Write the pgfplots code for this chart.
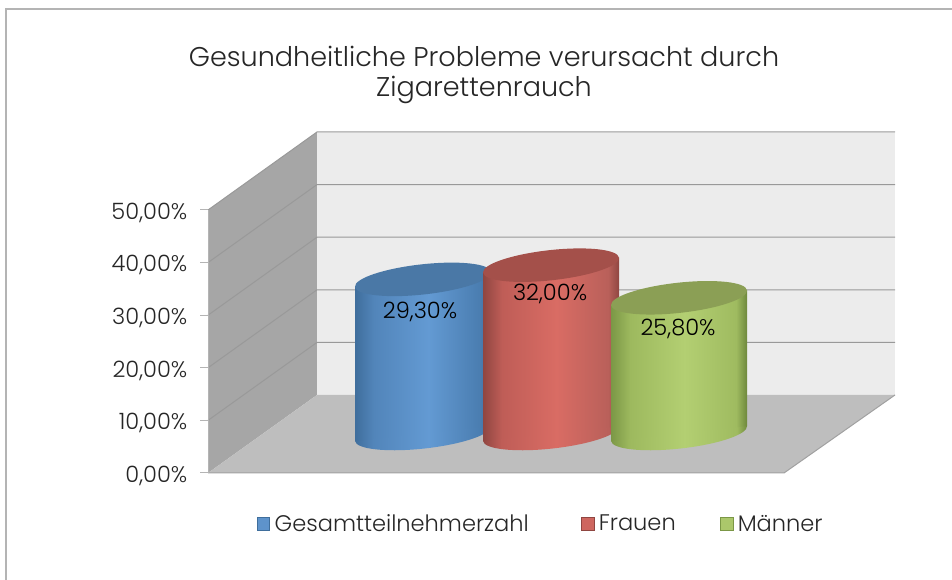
\documentclass[border=0pt]{standalone}
\usepackage{pgfplots}
\pgfplotsset{compat=1.18}
\usepackage{fontspec}
\setmainfont{Poppins}[UprightFont=* Light]
\definecolor{sidewall}{HTML}{A6A6A6}
\definecolor{floorc}{HTML}{BEBEBE}
\definecolor{backw}{HTML}{ECECEC}
\definecolor{gridc}{HTML}{999999}
\definecolor{bordc}{HTML}{B4B4B4}
\definecolor{txt}{HTML}{262626}
\definecolor{bA}{HTML}{3F6E9C}\definecolor{bB}{HTML}{5285BA}\definecolor{bC}{HTML}{639AD3}\definecolor{bD}{HTML}{4A7DB0}\definecolor{bT}{HTML}{4A78A6}
\definecolor{rA}{HTML}{8F4641}\definecolor{rB}{HTML}{BF5D57}\definecolor{rC}{HTML}{D96C64}\definecolor{rD}{HTML}{B9605A}\definecolor{rT}{HTML}{A4504A}
\definecolor{gA}{HTML}{7B9746}\definecolor{gB}{HTML}{9DB95E}\definecolor{gC}{HTML}{B3CF72}\definecolor{gD}{HTML}{9FBB60}\definecolor{gT}{HTML}{8B9F55}
\definecolor{gE}{HTML}{6E883C}
\pgfdeclarehorizontalshading{cylb}{100bp}{color(0bp)=(bA); color(25bp)=(bA); color(32bp)=(bB); color(52bp)=(bC); color(71bp)=(bD); color(75bp)=(bA); color(100bp)=(bA)}
\pgfdeclarehorizontalshading{cylr}{100bp}{color(0bp)=(rA); color(25bp)=(rA); color(32bp)=(rB); color(52bp)=(rC); color(71bp)=(rD); color(75bp)=(rA); color(100bp)=(rA)}
\pgfdeclarehorizontalshading{cylg}{100bp}{color(0bp)=(gA); color(25bp)=(gA); color(32bp)=(gB); color(52bp)=(gC); color(71bp)=(gD); color(75bp)=(gE); color(100bp)=(gE)}
% tilted ellipses: half axes 68 px and 15 px
\pgfdeclareplotmark{topb}{\pgfpathellipse{\pgfpointorigin}{\pgfqpoint{51pt}{5.6pt}}{\pgfqpoint{-1.2pt}{11.25pt}}\pgfsetfillcolor{bT}\pgfusepath{fill}}
\pgfdeclareplotmark{topr}{\pgfpathellipse{\pgfpointorigin}{\pgfqpoint{51pt}{5.6pt}}{\pgfqpoint{-1.2pt}{11.25pt}}\pgfsetfillcolor{rT}\pgfusepath{fill}}
\pgfdeclareplotmark{topg}{\pgfpathellipse{\pgfpointorigin}{\pgfqpoint{51pt}{5.6pt}}{\pgfqpoint{-1.2pt}{11.25pt}}\pgfsetfillcolor{gT}\pgfusepath{fill}}
\pgfdeclareplotmark{botb}{\pgfpathellipse{\pgfpointorigin}{\pgfqpoint{51pt}{5.6pt}}{\pgfqpoint{-1.2pt}{11.25pt}}\pgfshadepath{cylb}{0}\pgfusepath{discard}}
\pgfdeclareplotmark{botr}{\pgfpathellipse{\pgfpointorigin}{\pgfqpoint{51pt}{5.6pt}}{\pgfqpoint{-1.2pt}{11.25pt}}\pgfshadepath{cylr}{0}\pgfusepath{discard}}
\pgfdeclareplotmark{botg}{\pgfpathellipse{\pgfpointorigin}{\pgfqpoint{51pt}{5.6pt}}{\pgfqpoint{-1.2pt}{11.25pt}}\pgfshadepath{cylg}{0}\pgfusepath{discard}}
\begin{document}
\begin{tikzpicture}[x=1pt,y=1pt]
\path[use as bounding box] (0,0) rectangle (714,435);
\begin{axis}[
  at={(0pt,0pt)}, anchor=south west,
  scale only axis, width=714pt, height=435pt,
  xmin=0, xmax=952, ymin=-20.342, ymax=89.924,
  axis lines=none, clip=false, clip mode=individual,
  title={Gesundheitliche Probleme verursacht durch\\Zigarettenrauch},
  title style={at={(axis cs:484,74.1)},anchor=center,align=center,font=\fontsize{20.3}{22.5}\selectfont,text=txt,yshift=0pt},
  legend columns=3,
  legend cell align=left,
  legend image code/.code={\draw[#1] (0pt,-4.8pt) rectangle (9.6pt,4.8pt);},
  legend style={at={(axis cs:541,-9.7)},anchor=center,draw=none,fill=none,font=\fontsize{16.9}{18}\selectfont,text=txt,
    /tikz/every odd column/.append style={column sep=1.5pt},
    /tikz/every even column/.append style={column sep=31pt}},
]
% frame
\addplot[forget plot,bordc,line width=1.2pt] coordinates {(6,-20.342) (6,88.2) (952,88.2)};
% walls
\addplot[forget plot,draw=none,fill=sidewall] coordinates {(208,0) (208,50) (317,64.83) (317,14.83)} --cycle;
\addplot[forget plot,draw=none,fill=backw] coordinates {(317,14.83) (317,64.83) (895,64.83) (895,14.83)} --cycle;
\addplot[forget plot,draw=none,fill=floorc] coordinates {(208,0) (317,14.83) (895,14.83) (784,0)} --cycle;
% grid lines
\addplot[forget plot,gridc,line width=0.75pt] coordinates {(208,50) (317,64.83) (895,64.83)};
\addplot[forget plot,gridc,line width=0.75pt] coordinates {(208,40) (317,54.83) (895,54.83)};
\addplot[forget plot,gridc,line width=0.75pt] coordinates {(208,30) (317,44.83) (895,44.83)};
\addplot[forget plot,gridc,line width=0.75pt] coordinates {(208,20) (317,34.83) (895,34.83)};
\addplot[forget plot,gridc,line width=0.75pt] coordinates {(208,10) (317,24.83) (895,24.83)};
\addplot[forget plot,floorc!85!black,line width=0.75pt] coordinates {(208,0) (784,0) (895,14.83)};
% cylinders: blue
\addplot[forget plot,only marks,mark=botb,yshift=29.625pt] coordinates {(423,0)};
\addplot[forget plot,ybar,bar width=102pt,bar shift=0pt,draw=none,shading=cylb,yslant=0.11,yshift=-5.27pt] coordinates {(423,29.3)};
\addplot[forget plot,only marks,mark=topb,yshift=29.625pt] coordinates {(423,29.3)};
% red
\addplot[forget plot,only marks,mark=botr,yshift=29.625pt] coordinates {(551,0)};
\addplot[forget plot,ybar,bar width=102pt,bar shift=0pt,draw=none,shading=cylr,yslant=0.11,yshift=-15.83pt] coordinates {(551,32)};
\addplot[forget plot,only marks,mark=topr,yshift=29.625pt] coordinates {(551,32)};
% green
\addplot[forget plot,only marks,mark=botg,yshift=29.625pt] coordinates {(679,0)};
\addplot[forget plot,ybar,bar width=102pt,bar shift=0pt,draw=none,shading=cylg,yslant=0.11,yshift=-26.39pt] coordinates {(679,25.8)};
\addplot[forget plot,only marks,mark=topg,yshift=29.625pt] coordinates {(679,25.8)};
% value labels, above all three cylinders
\addplot[forget plot,only marks,mark=none,yshift=29.625pt,nodes near coords={29,30\%},nodes near coords align={center},
  every node near coord/.append style={text=black,font=\fontsize{16.9}{18}\selectfont,xshift=-2.2pt,yshift=-24.4pt}] coordinates {(423,29.3)};
\addplot[forget plot,only marks,mark=none,yshift=29.625pt,nodes near coords={32,00\%},nodes near coords align={center},
  every node near coord/.append style={text=black,font=\fontsize{16.9}{18}\selectfont,xshift=-0.7pt,yshift=-21.8pt}] coordinates {(551,32)};
\addplot[forget plot,only marks,mark=none,yshift=29.625pt,nodes near coords={25,80\%},nodes near coords align={center},
  every node near coord/.append style={text=black,font=\fontsize{16.9}{18}\selectfont,xshift=-0.7pt,yshift=-23.7pt}] coordinates {(679,25.8)};
% legend
\addlegendimage{draw=bA,fill=bC!85!bA}
\addlegendentry{Gesamtteilnehmerzahl\hspace*{6pt}}
\addlegendimage{draw=rA,fill=rC!85!rA}
\addlegendentry{Frauen}
\addlegendimage{draw=gA,fill=gC!85!gA}
\addlegendentry{Männer}
\end{axis}
\begin{axis}[
  at={(156pt,80.25pt)}, anchor=south west,
  scale only axis, width=1pt, height=197.25pt,
  xmin=0, xmax=1, ymin=0, ymax=50,
  axis x line=none, axis y line=left, y axis line style={-,bordc,line width=0.75pt},
  ytick={0,10,20,30,40,50},
  yticklabels={{0,00\%},{10,00\%},{20,00\%},{30,00\%},{40,00\%},{50,00\%}},
  tick align=outside, major tick length=6pt,
  tick style={bordc,line width=0.75pt},
  yticklabel style={font=\fontsize{16.9}{18}\selectfont,text=txt,xshift=-6pt,yshift=-2pt},
]
\end{axis}
\end{tikzpicture}
\end{document}
